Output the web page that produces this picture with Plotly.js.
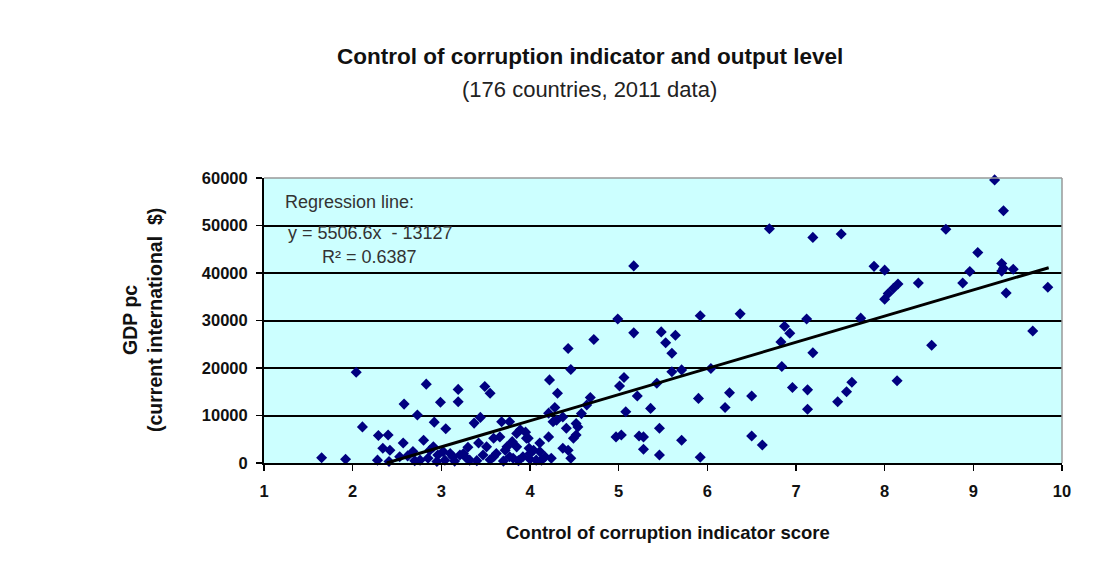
<!DOCTYPE html>
<html>
<head>
<meta charset="utf-8">
<script src="https://cdn.plot.ly/plotly-3.0.1.min.js"></script>
<style>
html,body{margin:0;padding:0;background:#fff;}
#chart{width:1115px;height:571px;}
</style>
</head>
<body>
<div id="chart"></div>
<script>
// Control of corruption indicator score (x) and GDP per capita (y)
const corruptionScore = [
  1.65,1.92,2.04,2.11,2.29,2.40,2.34,2.42,2.28,2.41,
  2.53,2.57,2.58,2.73,2.83,2.68,2.80,2.76,2.99,3.19,
  3.19,3.49,3.55,2.92,3.05,3.37,3.44,3.68,3.77,2.87,
  3.02,3.13,3.25,3.32,3.42,3.51,3.59,3.66,3.72,3.77,
  3.85,3.89,3.92,3.98,4.04,4.07,4.11,4.17,4.21,4.21,
  4.22,2.91,2.96,3.04,3.10,3.21,3.47,3.62,3.74,3.85,
  3.59,3.96,3.99,3.81,4.11,4.31,4.28,4.26,4.37,4.43,
  4.46,4.72,4.68,4.58,4.54,4.49,4.43,4.46,4.13,4.24,
  4.00,4.30,4.41,4.52,4.64,4.37,4.52,4.99,5.17,5.17,
  5.06,5.01,5.08,5.21,4.97,5.03,5.23,5.28,5.28,5.36,
  5.43,5.46,5.46,5.48,5.53,5.60,5.64,5.60,5.71,5.71,
  5.92,5.90,5.92,6.04,6.20,6.25,6.37,6.50,6.50,6.62,
  6.70,6.87,6.93,6.83,6.84,6.96,7.19,7.51,7.88,7.12,
  7.73,7.19,7.13,7.13,7.63,7.57,7.47,9.24,9.34,8.69,
  8.00,9.05,8.96,8.88,9.32,9.34,9.32,9.45,9.37,9.84,
  9.67,8.53,8.38,8.15,8.10,8.04,8.00,8.14,2.62,2.70,
  2.85,2.95,3.15,3.28,3.40,3.55,3.70,3.87,4.00,3.30,
  3.80,3.95
];
const gdpPerCapita = [
  1100,800,19100,7600,5800,5900,3100,2700,600,300,
  1300,4200,12400,10100,16600,2400,4800,600,12800,15500,
  12900,16100,14700,8600,7200,8400,9600,8700,8700,2700,
  2400,1300,2000,600,4200,3400,1300,5500,2700,1300,
  3400,7000,1300,5200,2700,600,4200,1300,5500,10500,
  17500,3400,1700,600,2000,1700,1700,2000,3400,6200,
  5200,5200,3100,1000,2400,14700,11700,8700,9700,24100,
  19700,26000,13800,10400,7600,5200,2700,1000,600,1000,
  2000,9000,7300,5900,12200,3100,8300,30300,41500,27400,
  18000,16200,10800,14100,5500,5900,5700,5500,2900,11500,
  16800,7300,1700,27600,25300,23100,26900,19200,19600,4800,
  31000,13600,1200,19900,11700,14800,31400,14100,5700,3800,
  49300,28800,27300,25500,20300,15900,47500,48200,41400,30300,
  30500,23200,15400,11300,17000,15000,12900,59600,53100,49200,
  40600,44300,40300,37900,42000,41000,40400,40800,35800,37000,
  27800,24800,37900,37700,36800,35700,34500,17300,1500,500,
  1000,300,400,1100,500,700,400,500,800,3300,
  4500,6500
];
// Regression coefficients shown on the chart
const regSlope = [5506.6];
const regIntercept = [-13127];
const regR2 = [0.6387];
const regXRange = [-regIntercept[0] / regSlope[0], 9.85];
const regY = regXRange.map(x => regSlope[0] * x + regIntercept[0]);

const xTicks = [1,2,3,4,5,6,7,8,9,10];
const yTicks = [0,10000,20000,30000,40000,50000,60000];

const fontMain = "Liberation Sans Narrow, Liberation Sans, Arial, sans-serif";
const fontBold = "Liberation Sans, Arial, sans-serif";

const traces = [
  {
    type: 'scatter', mode: 'markers',
    x: corruptionScore, y: gdpPerCapita,
    marker: {symbol: 'diamond', size: 8.5, color: '#000080'},
    hoverinfo: 'x+y', showlegend: false, cliponaxis: false
  },
  {
    type: 'scatter', mode: 'lines',
    x: regXRange, y: regY,
    line: {color: '#000000', width: 3},
    showlegend: false, hoverinfo: 'skip'
  }
];

const layout = {
  width: 1115, height: 571,
  paper_bgcolor: '#ffffff',
  plot_bgcolor: '#ccffff',
  margin: {l: 264, r: 53, t: 178, b: 108},
  showlegend: false,
  xaxis: {
    range: [1, 10], tickvals: xTicks, ticktext: xTicks.map(String),
    showgrid: false, zeroline: false,
    showline: true, linecolor: '#000', linewidth: 2,
    ticks: 'outside', ticklen: 6, tickwidth: 1.5, tickcolor: '#000',
    ticklabelstandoff: 6,
    tickfont: {family: fontBold, size: 16.5, color: '#111', weight: 'bold'},
    fixedrange: true
  },
  yaxis: {
    range: [0, 60000], tickvals: yTicks, ticktext: yTicks.map(String),
    showgrid: true, gridcolor: '#000', gridwidth: 2,
    zeroline: false,
    showline: true, linecolor: '#000', linewidth: 2,
    ticks: 'outside', ticklen: 6, tickwidth: 1.5, tickcolor: '#000',
    ticklabelstandoff: 5,
    tickfont: {family: fontBold, size: 16.5, color: '#111', weight: 'bold'},
    fixedrange: true
  },
  shapes: [
    {type: 'line', xref: 'paper', yref: 'paper', x0: 0, x1: 1, y0: 1, y1: 1,
     line: {color: '#999', width: 1.5}},
    {type: 'line', xref: 'paper', yref: 'paper', x0: 1, x1: 1, y0: 0, y1: 1,
     line: {color: '#999', width: 1.5}}
  ],
  annotations: [
    {text: '<b>Control of corruption indicator and output level</b>',
     xref: 'paper', yref: 'paper', x: 0.4085, y: 1.4246,
     showarrow: false, xanchor: 'center', yanchor: 'middle',
     font: {family: fontBold, size: 22.5, color: '#111'}},
    {text: '(176 countries, 2011 data)',
     xref: 'paper', yref: 'paper', x: 0.4085, y: 1.31,
     showarrow: false, xanchor: 'center', yanchor: 'middle',
     font: {family: fontMain, size: 22, color: '#222'}},
    {text: '<b>GDP pc</b><br><b>(current international  $)</b>',
     xref: 'paper', yref: 'paper', x: -0.1516, y: 0.5018,
     showarrow: false, textangle: -90, xanchor: 'center', yanchor: 'middle',
     font: {family: fontBold, size: 19.5, color: '#111'}},
    {text: '<b>Control of corruption indicator score</b>',
     xref: 'paper', yref: 'paper', x: 0.506, y: -0.2456,
     showarrow: false, xanchor: 'center', yanchor: 'middle',
     font: {family: fontBold, size: 18.5, color: '#111'}},
    {text: 'Regression line:',
     xref: 'paper', yref: 'paper', x: 0.0238, y: 0.917,
     showarrow: false, xanchor: 'left', yanchor: 'middle',
     font: {family: fontMain, size: 18, color: '#333'}},
    {text: 'y = ' + regSlope[0].toFixed(1) + 'x  - ' + Math.abs(regIntercept[0]),
     xref: 'paper', yref: 'paper', x: 0.0276, y: 0.807,
     showarrow: false, xanchor: 'left', yanchor: 'middle',
     font: {family: fontMain, size: 18, color: '#333'}},
    {text: 'R² = ' + regR2[0].toFixed(4),
     xref: 'paper', yref: 'paper', x: 0.0702, y: 0.723,
     showarrow: false, xanchor: 'left', yanchor: 'middle',
     font: {family: fontMain, size: 18, color: '#333'}}
  ]
};

Plotly.newPlot('chart', traces, layout, {displayModeBar: false, staticPlot: true});
</script>
</body>
</html>
